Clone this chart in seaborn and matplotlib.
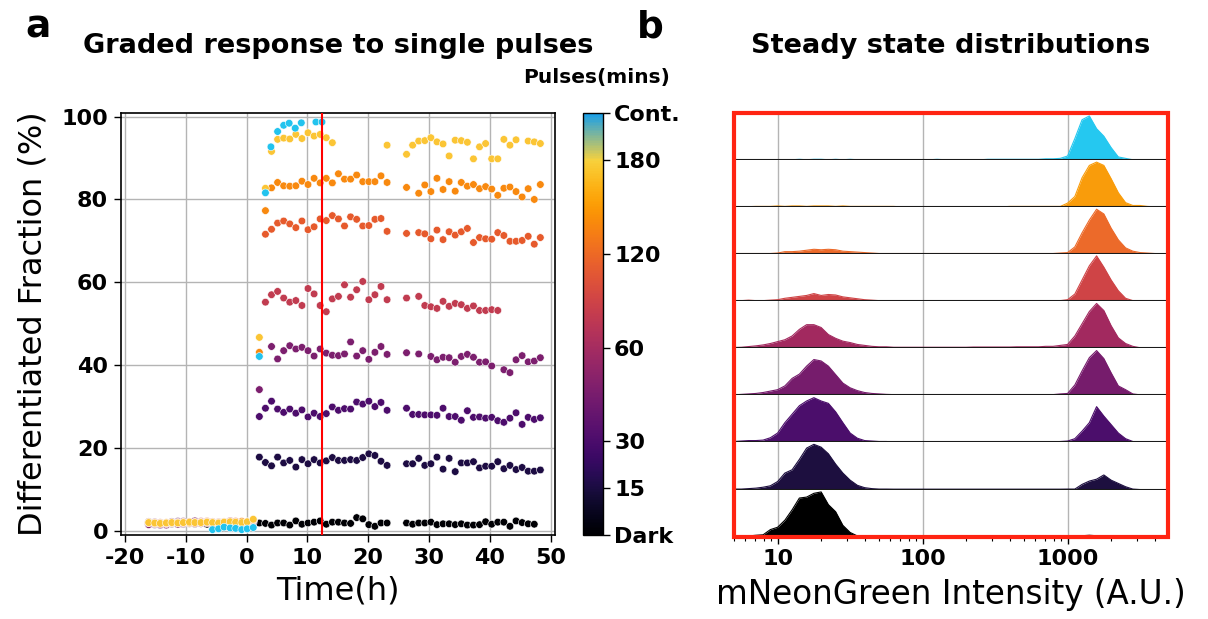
import numpy as np
import pandas as pd
import matplotlib
matplotlib.use("Agg")
import matplotlib as mpl
import matplotlib.pyplot as plt
import seaborn as sns
from matplotlib.colors import ListedColormap, Normalize, to_rgb
from matplotlib.patches import Rectangle

sns.set_style("white")
plt.rcParams["font.family"] = ["DejaVu Sans"]
plt.rcParams["axes.unicode_minus"] = False
for key in ["text.color", "axes.labelcolor", "xtick.color", "ytick.color"]:
    plt.rcParams[key] = "black"

nan = np.nan

# ---------------- Panel a data ----------------
TIME_H = [-16.1, -15.1, -14.2, -13.2, -12.3, -11.3, -10.4, -9.4, -8.5, -7.5,
          -6.5, -5.6, -4.6, -3.7, -2.7, -1.8, -0.8, 0.1, 1.1,
          2.1, 3.1, 4.1, 5.1, 6.1, 7.1, 8.1, 9.1, 10.1, 11.1, 12.1, 13.1,
          14.1, 15.1, 16.1, 17.1, 18.1, 19.1, 20.1, 21.1, 22.1, 23.1,
          26.3, 27.3, 28.3, 29.3, 30.3, 31.3, 32.3, 33.3, 34.3, 35.3, 36.3,
          37.3, 38.3, 39.3, 40.3, 41.3, 42.3, 43.3, 44.3, 45.3, 46.3, 47.3, 48.3]

frac_dark = [1.6, 1.8, 1.5, 1.9, 1.7, 1.6, 2.0, 1.8, 1.7, 1.9, 1.6, 1.8, 1.7, 1.5, 1.9, 1.8, 1.6, 1.9, 2.2,
             1.9, 1.8, 1.4, 1.9, 1.9, 1.4, 2.4, 1.6, 1.9, 2.1, 2.4, 1.6, 2.1, 2.1, 1.9, 1.8, 3.2, 2.9, 1.5, 1.1, 1.9, 1.9,
             1.9, 1.6, 1.9, 1.9, 2.1, 1.5, 1.7, 1.7, 1.5, 1.7, 1.4, 1.4, 1.5, 2.2, 1.6, 2.1, 2.1, 1.1, 2.4, 2.0, 1.7, 1.6, nan]
frac_15 = [1.8, 1.5, 1.7, 1.6, 2.0, 1.8, 1.6, 1.9, 1.7, 1.8, 2.0, 1.7, 1.6, 1.8, 1.9, 1.7, 1.8, 1.6, 2.0,
           17.8, 16.5, 15.7, 17.8, 16.4, 17.0, 15.4, 17.2, 16.2, 17.2, 16.4, 16.9, 17.7, 17.0, 17.0, 17.2, 17.0, 17.7, 18.6, 18.2, 16.8, 15.8,
           16.2, 16.2, 17.5, 15.8, 16.2, 17.8, 14.9, 17.5, 14.3, 16.4, 16.4, 16.7, 15.2, 15.6, 15.6, 16.7, 15.0, 15.8, 14.8, 15.3, 14.4, 14.4, 14.7]
frac_30 = [2.2, 1.6, 1.4, 1.9, 1.8, 2.3, 1.7, 2.0, 1.9, 2.1, 2.2, 1.8, 1.6, 2.0, 2.2, 1.9, 2.0, 1.7, 2.4,
           27.6, 29.6, 31.3, 29.4, 28.6, 29.4, 28.4, 29.2, 27.5, 28.4, 27.6, 28.3, 29.9, 29.1, 29.5, 29.4, 31.1, 30.6, 31.3, 30.0, 31.0, 29.1,
           29.6, 28.1, 28.1, 28.0, 28.0, 27.9, 29.6, 27.6, 27.6, 26.7, 29.0, 27.4, 27.5, 27.2, 27.4, 26.6, 26.2, 27.2, 28.5, 25.7, 27.4, 26.9, 27.3]
frac_45 = [1.5, 2.1, 1.8, 1.4, 2.2, 1.6, 2.3, 1.9, 2.4, 1.8, 2.3, 1.6, 2.1, 1.9, 2.3, 2.0, 1.8, 2.2, 2.5,
           34.1, nan, 44.5, 41.5, 43.5, 44.7, 43.9, 44.3, 43.5, 42.2, 43.9, 42.9, 42.4, 42.3, 42.7, 45.6, 42.2, 43.5, 41.4, 43.1, 44.5, 42.6,
           43.0, nan, 42.7, nan, 42.1, 41.3, 41.9, 41.8, 40.7, 42.1, 42.6, 41.9, 40.7, 40.8, 39.8, nan, 38.9, 38.2, 41.3, 42.3, 40.8, 41.0, 41.8]
frac_60 = [2.0, 1.7, 2.0, 1.7, 1.9, 2.1, 1.8, 2.1, 2.0, 2.3, 1.9, 2.2, 2.0, 2.1, 2.4, 2.1, 2.2, 2.0, 2.6,
           nan, 55.2, 57.0, 57.8, 56.2, 55.2, 55.6, 54.4, 58.5, 57.2, 54.4, 52.9, 56.0, 56.6, 59.4, 56.4, 58.2, 60.2, 55.8, 57.0, 59.0, 55.8,
           56.2, nan, 56.6, 54.4, 54.1, 53.7, 55.4, 54.2, 54.9, 54.6, 53.7, 54.3, 53.2, 53.2, 53.4, 53.2, nan, nan, nan, nan, nan, nan, nan]
frac_90 = [1.9, 2.0, 1.6, 1.8, 2.0, 1.9, 2.0, 2.2, 1.8, 2.1, 2.3, 2.0, 1.9, 2.2, 2.0, 2.3, 2.1, 1.9, 2.5,
           nan, 71.6, 72.8, 74.3, 74.8, 74.1, 73.2, 74.8, 72.7, 73.4, 75.3, 74.9, 76.1, 75.3, 73.6, 75.8, 75.2, 73.6, 73.7, 75.2, 75.4, 72.3,
           71.8, nan, 72.0, 71.7, 70.5, 72.6, 70.3, 72.2, 71.4, 72.2, 73.0, 69.6, 70.8, 70.5, 70.4, 72.0, 71.3, 69.9, 69.9, 70.1, 71.1, 69.2, 70.8]
frac_120 = [2.1, 1.8, 1.9, 2.0, 1.9, 2.0, 2.1, 1.9, 2.1, 2.0, 2.2, 2.1, 2.0, 2.1, 2.2, 2.0, 2.3, 2.1, 2.7,
            43.1, 77.3, 82.8, 84.1, 83.3, 83.2, 83.3, 84.4, 83.6, 85.1, 84.0, 85.1, 84.0, 86.2, 84.9, 84.9, 85.9, 84.3, 84.3, 84.3, 85.7, 84.1,
            82.9, nan, 81.5, 83.5, 81.9, 85.1, 82.4, 84.3, 82.0, 84.1, 83.2, 83.6, 82.6, 83.1, 82.5, 81.0, 82.7, 83.0, 81.9, 80.6, 82.6, 80.0, 83.6]
frac_180 = [2.0, 1.9, 1.8, 1.9, 2.0, 1.9, 2.0, 2.1, 2.0, 2.0, 2.1, 2.0, 1.9, 2.1, 2.2, 2.1, 2.0, 2.2, 2.8,
            46.7, 82.7, 91.6, 94.5, 94.8, 94.6, 95.7, 94.7, 96.1, 95.3, 95.7, 94.9, 93.7, nan, nan, nan, nan, nan, nan, nan, nan, 93.1,
            90.9, 93.1, 94.1, 94.2, 94.9, 93.9, 93.4, 90.5, 94.3, 94.2, 93.8, 89.8, 92.7, 93.5, 89.8, 89.8, 94.5, 93.1, 94.4, nan, 94.1, 93.9, 93.5]
cont_time = [-5.6, -4.6, -3.7, -2.7, -1.8, -0.8, 0.1, 1.1,
             2.1, 3.1, 4.0, 5.1, 6.1, 7.0, 8.0, 9.0, 11.4, 12.4]
frac_cont = [0.3, 0.5, 0.9, 0.7, 0.6, 0.3, 0.5, 0.8,
             42.1, 81.6, 92.7, 96.4, 97.9, 98.4, 97.2, 98.5, 98.7, 98.7]

CONDITIONS = ["Dark", "15", "30", "45", "60", "90", "120", "180", "Cont."]
RED_LINE_T = 12.4

# colorbar levels (equally spaced), labelled subset
CBAR_LEVELS = ["Dark", "15", "30", "45", "60", "90", "120", "150", "180", "Cont."]
CBAR_SHOWN = ["Dark", "15", "30", "60", "120", "180", "Cont."]

# ---------------- Panel b data ----------------
LOG10_INTENSITY = [0.70, 0.75, 0.80, 0.85, 0.90, 0.95, 1.00, 1.05, 1.10, 1.15,
                   1.20, 1.25, 1.30, 1.35, 1.40, 1.45, 1.50, 1.55, 1.60, 1.65,
                   1.70, 1.75, 1.80, 1.85, 1.90, 1.95, 2.00, 2.05, 2.10, 2.15,
                   2.20, 2.25, 2.30, 2.35, 2.40, 2.45, 2.50, 2.55, 2.60, 2.65,
                   2.70, 2.75, 2.80, 2.85, 2.90, 2.95, 3.00, 3.05, 3.10, 3.15,
                   3.20, 3.25, 3.30, 3.35, 3.40, 3.45, 3.50, 3.55, 3.60, 3.65,
                   3.70]

dens_cont = [0, 0, 0, 0, 0, 0, 0, 0, 0, 0.01,
             0, 0.01, 0.01, 0, 0.01, 0, 0.01, 0, 0, 0,
             0, 0, 0, 0, 0, 0, 0, 0, 0.01, 0,
             0, 0, 0, 0, 0, 0.01, 0.01, 0.01, 0.01, 0.01,
             0.01, 0.01, 0.01, 0.02, 0.02, 0.03, 0.08, 0.45, 0.85, 0.93,
             0.66, 0.50, 0.26, 0.06, 0.03, 0, 0, 0, 0, 0,
             0]
dens_150 = [0, 0, 0.005, 0.01, 0.01, 0.01, 0.02, 0.01, 0.02, 0.02,
            0.01, 0.02, 0.02, 0.02, 0.01, 0.02, 0.01, 0.01, 0.01, 0.01,
            0.01, 0.01, 0.01, 0, 0, 0, 0, 0, 0, 0,
            0, 0, 0, 0, 0, 0, 0, 0, 0.01, 0.01,
            0.01, 0.01, 0.01, 0.01, 0.01, 0.01, 0.08, 0.22, 0.62, 0.88,
            0.95, 0.88, 0.60, 0.30, 0.09, 0.03, 0.03, 0.01, 0, 0,
            0]
dens_120 = [0.01, 0.01, 0.01, 0.01, 0.01, 0.01, 0.02, 0.05, 0.05, 0.06,
            0.08, 0.10, 0.09, 0.10, 0.09, 0.06, 0.05, 0.04, 0.03, 0.02,
            0.01, 0.01, 0.01, 0.01, 0.01, 0.01, 0.01, 0.01, 0.01, 0.01,
            0.01, 0.01, 0.01, 0.01, 0.01, 0.01, 0.01, 0.01, 0.01, 0.01,
            0.01, 0.01, 0.01, 0.01, 0.01, 0.02, 0.03, 0.15, 0.45, 0.72,
            0.95, 0.85, 0.55, 0.30, 0.13, 0.06, 0.03, 0.02, 0.01, 0,
            0]
dens_90 = [0.01, 0.01, 0.02, 0.01, 0.01, 0.02, 0.03, 0.06, 0.08, 0.10,
           0.12, 0.16, 0.12, 0.14, 0.13, 0.09, 0.07, 0.05, 0.03, 0.02,
           0.01, 0.01, 0.01, 0.01, 0.01, 0.01, 0.01, 0.01, 0.01, 0.01,
           0.01, 0.01, 0.01, 0.01, 0.01, 0.01, 0.01, 0.01, 0.01, 0.01,
           0.01, 0.01, 0.01, 0.01, 0.01, 0.01, 0.03, 0.15, 0.45, 0.75,
           0.96, 0.72, 0.45, 0.22, 0.06, 0.01, 0, 0, 0, 0,
           0]
dens_60 = [0.015, 0.02, 0.035, 0.05, 0.07, 0.10, 0.14, 0.18, 0.26, 0.40,
           0.50, 0.50, 0.44, 0.29, 0.21, 0.15, 0.12, 0.08, 0.06, 0.04,
           0.03, 0.03, 0.02, 0.02, 0.02, 0.02, 0.02, 0.02, 0.02, 0.02,
           0.02, 0.02, 0.02, 0.025, 0.025, 0.025, 0.025, 0.025, 0.025, 0.03,
           0.03, 0.03, 0.03, 0.04, 0.04, 0.06, 0.08, 0.26, 0.52, 0.78,
           0.95, 0.80, 0.48, 0.22, 0.10, 0.04, 0.01, 0, 0, 0,
           0]
dens_45 = [0.01, 0.02, 0.03, 0.04, 0.06, 0.09, 0.12, 0.20, 0.36, 0.45,
           0.62, 0.76, 0.73, 0.62, 0.44, 0.26, 0.16, 0.10, 0.06, 0.04,
           0.03, 0.02, 0.015, 0.015, 0.015, 0.015, 0.015, 0.015, 0.015, 0.015,
           0.015, 0.015, 0.015, 0.015, 0.015, 0.015, 0.015, 0.015, 0.015, 0.015,
           0.015, 0.015, 0.015, 0.015, 0.015, 0.03, 0.04, 0.22, 0.52, 0.80,
           0.95, 0.78, 0.48, 0.20, 0.12, 0.03, 0.01, 0, 0, 0,
           0]
dens_30 = [0.02, 0.03, 0.04, 0.04, 0.05, 0.10, 0.20, 0.42, 0.60, 0.78,
           0.88, 0.95, 0.88, 0.83, 0.65, 0.42, 0.20, 0.09, 0.04, 0.03,
           0.02, 0.02, 0.01, 0.01, 0.01, 0.01, 0.01, 0.01, 0.01, 0.01,
           0.01, 0.01, 0.01, 0.01, 0.01, 0.01, 0.01, 0.01, 0.01, 0.01,
           0.01, 0.01, 0.01, 0.01, 0.01, 0.02, 0.03, 0.08, 0.24, 0.42,
           0.76, 0.56, 0.38, 0.20, 0.08, 0.02, 0, 0, 0, 0,
           0]
dens_15 = [0.01, 0.01, 0.02, 0.03, 0.05, 0.08, 0.17, 0.35, 0.42, 0.64,
           0.88, 0.96, 0.90, 0.76, 0.54, 0.35, 0.20, 0.09, 0.04, 0.02,
           0.01, 0.01, 0.008, 0.008, 0.008, 0.008, 0.008, 0.008, 0.008, 0.008,
           0.008, 0.008, 0.008, 0.008, 0.008, 0.008, 0.008, 0.008, 0.008, 0.008,
           0.008, 0.008, 0.008, 0.008, 0.008, 0.008, 0.01, 0.01, 0.11, 0.18,
           0.22, 0.31, 0.20, 0.13, 0.06, 0.01, 0, 0, 0, 0,
           0]
dens_dark = [0, 0.01, 0.015, 0.03, 0.04, 0.15, 0.20, 0.35, 0.57, 0.82,
             0.84, 0.92, 0.95, 0.68, 0.53, 0.24, 0.09, 0.015, 0.01, 0,
             0, 0, 0, 0, 0, 0, 0, 0, 0, 0,
             0, 0, 0, 0, 0, 0, 0, 0, 0, 0,
             0, 0, 0, 0, 0, 0, 0, 0.01, 0.02, 0.03,
             0.02, 0.01, 0, 0, 0, 0, 0, 0, 0, 0,
             0]

RIDGE_ORDER = ["Cont.", "150", "120", "90", "60", "45", "30", "15", "Dark"]

# ---------------- styles ----------------
POINT_COLORS = ["#000004", "#1d0c43", "#4d0d6c", "#7c1f6e", "#c13c50",
                "#e65a2c", "#f8890f", "#fbc535", "#22c3ee"]
RIDGE_COLORS = ["#25c8f0", "#f99c0b", "#ec6a2a", "#cf4446", "#a2295f",
                "#761c6c", "#4b0e6b", "#1d0f3f", "#000000"]

W, H = 1208, 619
fig = plt.figure(figsize=(W / 100, H / 100), dpi=100)

# ---------------- Panel a ----------------
axA = fig.add_axes([0.0999, 0.1357, 0.3595, 0.6813])
series = [frac_dark, frac_15, frac_30, frac_45, frac_60, frac_90, frac_120, frac_180]
frames = []
for cond, vals in zip(CONDITIONS[:-1], series):
    frames.append(pd.DataFrame({"time": TIME_H, "frac": vals, "cond": cond}))
frames.append(pd.DataFrame({"time": cont_time, "frac": frac_cont, "cond": "Cont."}))
df = pd.concat(frames, ignore_index=True).dropna()

sns.scatterplot(data=df, x="time", y="frac", hue="cond", hue_order=CONDITIONS,
                palette=dict(zip(CONDITIONS, POINT_COLORS)), s=30, linewidth=0.4,
                edgecolor="white", legend=False, ax=axA, zorder=3)
axA.axvline(RED_LINE_T, color="red", lw=1.5, zorder=4)
axA.set_xlim(-20.7, 50.7)
axA.set_ylim(-1.0, 100.8)
axA.set_xticks([-20, -10, 0, 10, 20, 30, 40, 50])
axA.set_yticks([0, 20, 40, 60, 80, 100])
axA.grid(True, color="#b4b4b4", lw=1.0)
axA.set_axisbelow(True)
for sp in axA.spines.values():
    sp.set_color("black")
    sp.set_linewidth(1.2)
axA.tick_params(axis="both", direction="out", length=5, width=1, pad=4,
                labelsize=16, bottom=True, left=True)
for lab in axA.get_xticklabels() + axA.get_yticklabels():
    lab.set_fontweight("bold")
axA.set_xlabel("Time(h)", fontsize=23, labelpad=6)
axA.set_ylabel("Differentiated Fraction (%)", fontsize=23, labelpad=9)

# ---------------- Colorbar ----------------
inferno = plt.get_cmap("inferno")
n = 256
pos = np.linspace(0, 1, n)
split = CBAR_LEVELS.index("180") / (len(CBAR_LEVELS) - 1)
top_rgb = np.array(to_rgb("#1a9fe8"))
cols = []
for p in pos:
    if p <= split:
        cols.append(inferno(p)[:3])
    else:
        f = (p - split) / (1 - split)
        base = np.array(inferno(split)[:3])
        cols.append(tuple(base * (1 - f) + top_rgb * f))
cmap = ListedColormap(cols)
cax = fig.add_axes([0.4826, 0.1357, 0.01656, 0.6813])
cb = mpl.colorbar.ColorbarBase(cax, cmap=cmap, norm=Normalize(0, 1))
tick_pos = [CBAR_LEVELS.index(l) / (len(CBAR_LEVELS) - 1) for l in CBAR_SHOWN]
cb.set_ticks(tick_pos)
cb.set_ticklabels(CBAR_SHOWN)
cax.tick_params(labelsize=16, length=5, width=1, pad=3, colors="black")
for lab in cax.get_yticklabels():
    lab.set_fontweight("bold")
cb.outline.set_linewidth(1.0)
cb.outline.set_edgecolor("black")
fig.text(0.5546, 0.8756, "Pulses(mins)", ha="right", va="center",
         fontsize=14.5, fontweight="bold")

# ---------------- Panel b ----------------
ridges = {"Cont.": dens_cont, "150": dens_150, "120": dens_120, "90": dens_90,
          "60": dens_60, "45": dens_45, "30": dens_30, "15": dens_15, "Dark": dens_dark}
bl, bb, bw, bh = 0.6076, 0.133, 0.359, 0.685
rh = bh / len(RIDGE_ORDER)
xvals = 10 ** np.array(LOG10_INTENSITY)
for i, (name, color) in enumerate(zip(RIDGE_ORDER, RIDGE_COLORS)):
    ax = fig.add_axes([bl, bb + (len(RIDGE_ORDER) - 1 - i) * rh, bw, rh])
    vals = np.array(ridges[name])
    ax.fill_between(xvals, vals, 0, color=color, lw=0, zorder=2)
    sns.lineplot(x=xvals, y=vals, color=color, lw=0.8, ax=ax, zorder=3)
    ax.set_xscale("log")
    ax.set_xlim(5, 4900)
    ax.set_ylim(0, 1.0)
    ax.set_yticks([])
    ax.set_ylabel("")
    ax.grid(axis="x", which="major", color="#b4b4b4", lw=1.0)
    ax.set_axisbelow(True)
    for s in ["top", "left", "right"]:
        ax.spines[s].set_visible(False)
    ax.spines["bottom"].set_color("#1a1a1a")
    ax.spines["bottom"].set_linewidth(1.5)
    ax.spines["bottom"].set_zorder(4)
    if i < len(RIDGE_ORDER) - 1:
        ax.tick_params(axis="x", which="both", bottom=False, labelbottom=False)
        ax.set_xlabel("")
    else:
        ax.set_xticks([10, 100, 1000])
        ax.set_xticklabels(["10", "100", "1000"])
        ax.tick_params(axis="x", which="major", direction="out", length=5, width=1,
                       labelsize=16, pad=4, bottom=True)
        ax.tick_params(axis="x", which="minor", direction="out", length=3, width=0.8,
                       bottom=True)
        for lab in ax.get_xticklabels():
            lab.set_fontweight("bold")
        ax.set_xlabel("mNeonGreen Intensity (A.U.)", fontsize=23.5, labelpad=6)

frame = Rectangle((bl, bb), bw, bh, transform=fig.transFigure, fill=False,
                  edgecolor="#ff2412", lw=3, zorder=20)
fig.add_artist(frame)

# ---------------- titles and panel letters ----------------
fig.text(338 / W, 1 - 46 / H, "Graded response to single pulses", ha="center", va="center",
         fontsize=19.5, fontweight="bold")
fig.text(951 / W, 1 - 46 / H, "Steady state distributions", ha="center", va="center",
         fontsize=19.5, fontweight="bold")
fig.text(38 / W, 1 - 28 / H, "a", ha="center", va="center", fontsize=27, fontweight="bold")
fig.text(650 / W, 1 - 28 / H, "b", ha="center", va="center", fontsize=27, fontweight="bold")

fig.savefig("out.png", dpi=100)
